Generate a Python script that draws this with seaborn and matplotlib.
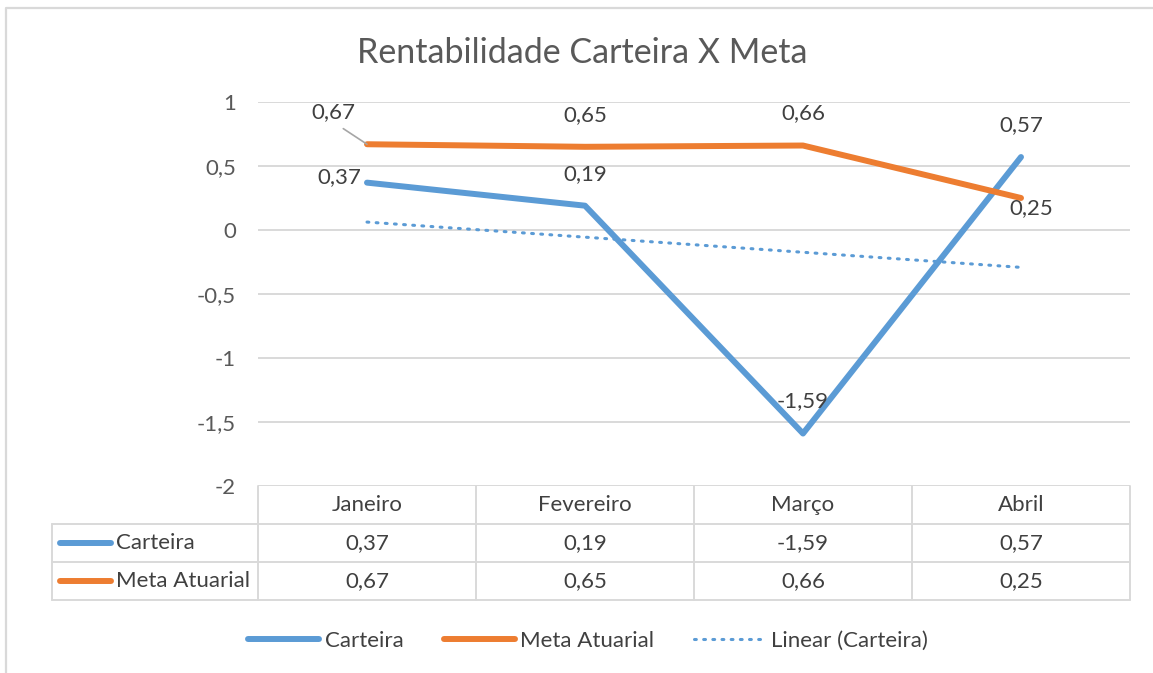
import numpy as np
import pandas as pd
import matplotlib
matplotlib.use("Agg")
import matplotlib.pyplot as plt
import seaborn as sns
from matplotlib.lines import Line2D

# dados
meses = ["Janeiro", "Fevereiro", "Março", "Abril"]
carteira = [0.37, 0.19, -1.59, 0.57]
meta = [0.67, 0.65, 0.66, 0.25]
yticks = [1, 0.5, 0, -0.5, -1, -1.5, -2]

azul = "#5B9BD5"
laranja = "#ED7D31"
cinza_txt = "#595959"
cinza_lbl = "#404040"
cinza_grid = "#D9D9D9"
fs = 16

def fmt(v):
    return ("%g" % v).replace(".", ",")

sns.set_theme(style="white")
plt.rcParams["font.family"] = ["Lato", "DejaVu Sans"]

W, H = 1153, 673
fig = plt.figure(figsize=(W / 100, H / 100), dpi=100)

def fx(px):
    return px / W

def fy(py):
    return 1 - py / H

ax = fig.add_axes([fx(258), fy(486), fx(1130) - fx(258), fy(102) - fy(486)])

x = np.arange(len(meses))
df = pd.DataFrame({"mes": x, "Carteira": carteira, "Meta Atuarial": meta})
sns.lineplot(data=df, x="mes", y="Carteira", ax=ax, color=azul, linewidth=4.3,
             solid_capstyle="round", label="Carteira", legend=False)
sns.lineplot(data=df, x="mes", y="Meta Atuarial", ax=ax, color=laranja, linewidth=4.3,
             solid_capstyle="round", label="Meta Atuarial", legend=False)

# linha de tendência linear
coef = np.polyfit(x + 1, carteira, 1)
trend = np.polyval(coef, x + 1)
ax.plot(x, trend, color=azul, linewidth=2.2, linestyle=(0, (0.6, 2.4)),
        dash_capstyle="round", label="Linear (Carteira)")

ax.set_xlim(-0.5, len(meses) - 0.5)
ax.set_ylim(-2, 1)
ax.set_yticks(yticks)
ax.set_yticklabels([fmt(v) for v in yticks], fontsize=fs, color=cinza_txt)
ax.tick_params(axis="y", length=0, pad=16)
ax.set_xticks([])
ax.set_xlabel("")
ax.set_ylabel("")
for s in ax.spines.values():
    s.set_visible(False)
for v in yticks:
    ax.axhline(v, color=cinza_grid, linewidth=1.4, zorder=0)

# rótulos de dados
lbl = dict(fontsize=fs, color=cinza_lbl, textcoords="offset points")
ax.annotate(fmt(carteira[0]), (x[0], carteira[0]), xytext=(-4, 4),
            ha="right", va="center", **lbl)
for i in [1, 2, 3]:
    ax.annotate(fmt(carteira[i]), (x[i], carteira[i]), xytext=(0, 23),
                ha="center", va="center", **lbl)
ax.annotate(fmt(meta[0]), (x[0], meta[0]), xytext=(-24, 23),
            ha="center", va="center",
            arrowprops=dict(arrowstyle="-", color="#A6A6A6", lw=1.2,
                            shrinkA=4, shrinkB=0, relpos=(0.5, 0)), **lbl)
for i in [1, 2]:
    ax.annotate(fmt(meta[i]), (x[i], meta[i]), xytext=(0, 23),
                ha="center", va="center", **lbl)
ax.annotate(fmt(meta[3]), (x[3], meta[3]), xytext=(7.5, -7.5),
            ha="center", va="center", **lbl)

# título
fig.text(fx(582), fy(53), "Rentabilidade Carteira X Meta", fontsize=24.5, color=cinza_txt,
         ha="center", va="center")

# tabela de dados
bordas = [258, 476, 694, 912, 1130]
def hline(y, x0, x1):
    fig.add_artist(Line2D([fx(x0), fx(x1)], [fy(y), fy(y)], color=cinza_grid, lw=1.4))
def vline(xp, y0, y1):
    fig.add_artist(Line2D([fx(xp), fx(xp)], [fy(y0), fy(y1)], color=cinza_grid, lw=1.4))

for y in [524, 562, 600]:
    hline(y, 52, 1130)
for b in bordas:
    vline(b, 486, 600)
vline(52, 524, 600)

for i, m in enumerate(meses):
    xc = (bordas[i] + bordas[i + 1]) / 2
    fig.text(fx(xc), fy(505), m, fontsize=fs, color=cinza_lbl, ha="center", va="center")
    fig.text(fx(xc), fy(543), fmt(carteira[i]), fontsize=fs, color=cinza_lbl, ha="center", va="center")
    fig.text(fx(xc), fy(581), fmt(meta[i]), fontsize=fs, color=cinza_lbl, ha="center", va="center")

for yc, nome, cor in [(543, "Carteira", azul), (581, "Meta Atuarial", laranja)]:
    fig.add_artist(Line2D([fx(60), fx(111)], [fy(yc), fy(yc)], color=cor, lw=4.3,
                          solid_capstyle="round"))
    fig.text(fx(116), fy(yc), nome, fontsize=fs, color=cinza_lbl, ha="left", va="center")

# moldura
fig.add_artist(Line2D([fx(6), fx(6), fx(W + 5)], [fy(H + 5), fy(8), fy(8)],
                      color=cinza_grid, lw=1.6))

# legenda
handles, labels = ax.get_legend_handles_labels()
leg = fig.legend(handles, labels, loc="center", bbox_to_anchor=(fx(588), fy(641)), ncol=3,
                 frameon=False, fontsize=fs, handlelength=3.2, columnspacing=1.8,
                 handletextpad=0.25)
for t in leg.get_texts():
    t.set_color(cinza_lbl)

fig.savefig("out.png", dpi=100)
